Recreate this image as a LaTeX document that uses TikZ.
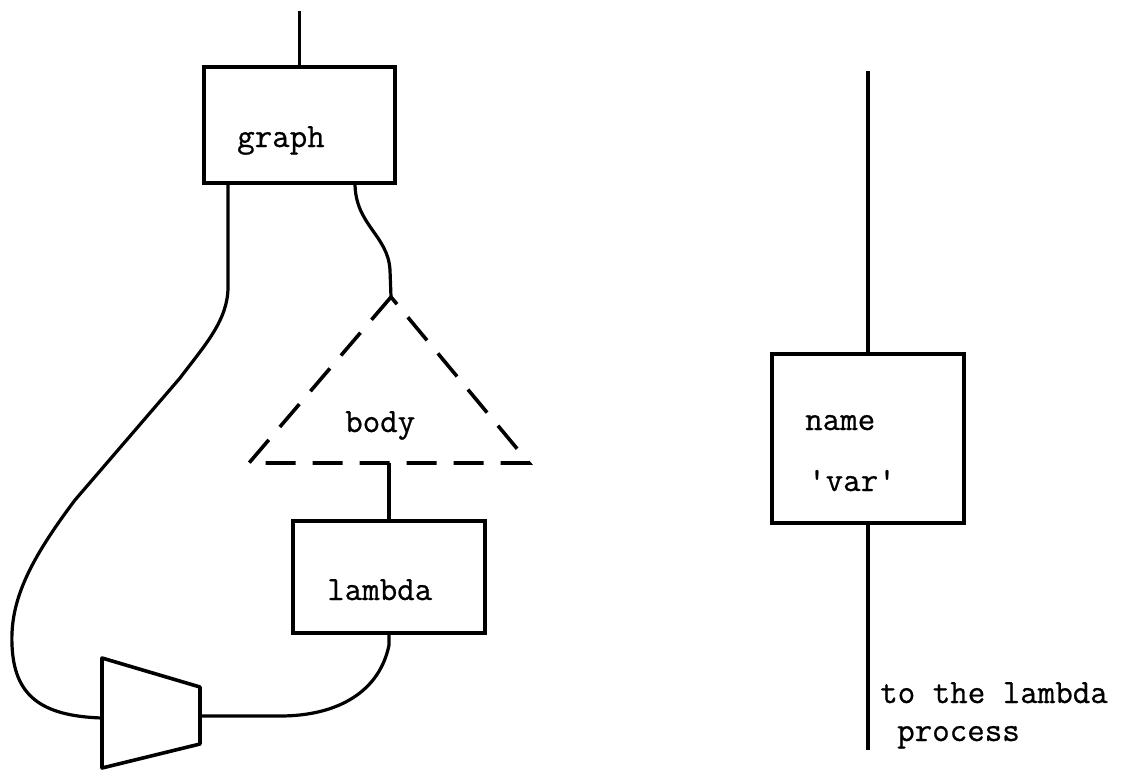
\documentclass[tikz,border=0pt]{standalone}
\usepackage{fontspec}
\newfontfamily\tw[FakeBold=0.7]{Latin Modern Mono}
\begin{document}
\begin{tikzpicture}[x=1pt,y=-1pt,
  box/.style={draw, line width=3.6pt, rectangle, inner sep=0pt},
  wire/.style={line width=3.2pt},
  dashline/.style={line width=3.6pt, dash pattern=on 30pt off 17pt},
  lbl/.style={font=\tw\fontsize{34}{40}\selectfont, inner sep=0pt, anchor=base west}]
\useasboundingbox (0,0) rectangle (1123,771);
% boxes
\node[box, minimum width=191pt, minimum height=116pt] (graph) at (299.5,125) {};
\node[box, minimum width=192pt, minimum height=112pt] (lambda) at (389,577) {};
\node[box, minimum width=192pt, minimum height=169pt] (name) at (868,438.5) {};
% texts
\node[lbl] (tgraph) at (237,147) {graph};
\node[lbl] (tbody) at (345,432) {body};
\node[lbl] (tlambda) at (327,600) {lambda};
\node[lbl] (tname) at (805,430) {name};
\node[lbl] (tvar) at (808,491) {'var'};
\node[lbl] (tto) at (880,703) {to the lambda};
\node[lbl] (tproc) at (897,741) {process};
% coordinates
\coordinate (in) at (299.5,11);
\coordinate (g1) at (228,183);
\coordinate (g2) at (355,183);
\coordinate (apex) at (391,297);
\coordinate (bl) at (249,463);
\coordinate (br) at (529,463);
\coordinate (bm) at (389,463);
\coordinate (t1) at (102,658);
\coordinate (t2) at (200,687);
\coordinate (t3) at (200,744);
\coordinate (t4) at (102,768);
\coordinate (tl) at (102,718);
\coordinate (tr) at (200,716);
\coordinate (nin) at (868,71);
\coordinate (nout) at (868,750);
% triangle
\draw[dashline] (apex) -- (bl) -- (br) -- cycle;
% trapezoid
\draw[line width=3.6pt, line join=round] (t1) -- (t2) -- (t3) -- (t4) -- cycle;
% connectors
\draw[wire] (in) -- (graph.north);
\draw[wire] (g1) -- (228,287) .. controls (228,320) and (205,345) .. (180,378)
  -- (75,500) .. controls (30,560) and (10,600) .. (12,645)
  .. controls (14,695) and (40,716) .. (tl);
\draw[wire] (g2) .. controls (355,225) and (388,235) .. (390,270) -- (apex);
\draw[wire] (bm) -- (lambda.north);
\draw[wire] (lambda.south) -- (389,645) .. controls (380,690) and (340,716) .. (280,716) -- (tr);
\draw[wire] (nin) -- (name.north);
\draw[wire] (name.south) -- (nout);
\end{tikzpicture}
\end{document}
